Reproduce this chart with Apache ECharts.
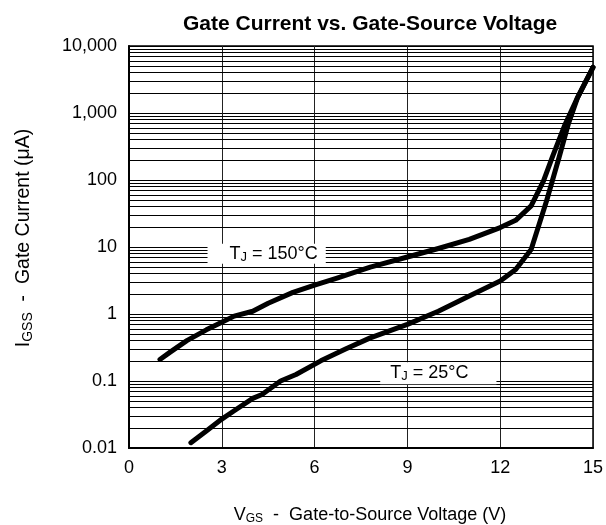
<!DOCTYPE html>
<html>
<head>
<meta charset="utf-8">
<script src="https://cdn.jsdelivr.net/npm/echarts@6.0.0/dist/echarts.min.js"></script>
<style>
html,body{margin:0;padding:0;background:#fff;}
#chart{width:606px;height:525px;}
</style>
</head>
<body>
<div id="chart"></div>
<script>
// ---- data ----
const vgs150 = [1.0, 1.33, 1.87, 2.5, 3.0, 3.4, 4.0, 4.5, 5.3, 6.0, 6.7, 7.8, 9.0, 10.0, 11.0, 12.0, 12.5, 13.0, 13.4, 13.7, 14.1, 14.5, 15.0];
const igss150 = [0.21, 0.27, 0.40, 0.58, 0.75, 0.93, 1.1, 1.45, 2.1, 2.7, 3.4, 5.0, 7.1, 9.5, 13, 19.5, 25, 41, 97, 230, 680, 1700, 4800];

const vgs25 = [2.0, 2.5, 3.0, 3.4, 4.0, 4.3, 4.9, 5.4, 6.2, 7.0, 7.8, 9.0, 10.0, 11.0, 12.0, 12.5, 13.0, 13.5, 13.9, 14.2, 14.5, 15.0];
const igss25 = [0.012, 0.018, 0.027, 0.036, 0.055, 0.063, 0.10, 0.125, 0.2, 0.3, 0.44, 0.70, 1.1, 1.85, 3.1, 4.6, 9.2, 49, 215, 680, 1700, 4800];

const xTickValues = [0, 3, 6, 9, 12, 15];
const yTickValues = [0.01, 0.1, 1, 10, 100, 1000, 10000];
const yTickLabels = ['0.01', '0.1', '1', '10', '100', '1,000', '10,000'];
const minorMultipliers = [2, 3, 4, 5, 6, 7, 8, 9];

const titleText = 'Gate Current vs. Gate-Source Voltage';
const label150 = 'T_J = 150°C';
const label25 = 'T_J = 25°C';

// ---- build chart ----
const FONT = '"Liberation Sans", Arial, sans-serif';
const toPairs = (xs, ys) => xs.map((x, i) => [x, ys[i]]);

const minorLines = [];
for (let d = 0; d < yTickValues.length - 1; d++) {
  minorMultipliers.forEach(m => minorLines.push({ yAxis: yTickValues[d] * m }));
}

function yFmt(v) {
  for (let i = 0; i < yTickValues.length; i++) {
    if (Math.abs(Math.log10(v) - Math.log10(yTickValues[i])) < 1e-6) return yTickLabels[i];
  }
  return '';
}

const labelRich = {
  t: { fontSize: 18, fontFamily: FONT, color: '#000', lineHeight: 20, verticalAlign: 'middle' },
  s: { fontSize: 13, fontFamily: FONT, color: '#000', lineHeight: 12, verticalAlign: 'bottom' }
};
const xNameRich = {
  t: { fontSize: 18, fontFamily: FONT, color: '#000', lineHeight: 20, verticalAlign: 'middle' },
  s: { fontSize: 12, fontFamily: FONT, color: '#000', lineHeight: 12, verticalAlign: 'bottom' }
};
const yNameRich = {
  t: { fontSize: 19.5, fontFamily: FONT, color: '#000', lineHeight: 22, verticalAlign: 'middle' },
  s: { fontSize: 14, fontFamily: FONT, color: '#000', lineHeight: 13, verticalAlign: 'bottom' }
};
function richLabel(s) {
  const parts = s.split('_');
  const sub = parts[1].charAt(0);
  return '{t|' + parts[0] + '}{s|' + sub + '}{t|' + parts[1].slice(1) + '}';
}

const chart = echarts.init(document.getElementById('chart'), null, { renderer: 'canvas' });
chart.setOption({
  animation: false,
  backgroundColor: '#fff',
  textStyle: { fontFamily: FONT, color: '#000' },
  title: {
    text: titleText,
    left: 178,
    top: 9,
    textStyle: { fontSize: 21, fontWeight: 'bold', fontFamily: FONT, color: '#000' }
  },
  grid: {
    left: 129, right: 13, top: 46, bottom: 77,
    containLabel: false, outerBoundsMode: 'none',
    show: true, borderColor: '#000', borderWidth: 1.5, backgroundColor: 'transparent'
  },
  xAxis: {
    type: 'value', min: 0, max: 15, interval: 3,
    axisLine: { show: true, onZero: false, lineStyle: { color: '#000', width: 2 } },
    axisTick: { show: false },
    axisLabel: { fontSize: 18, color: '#000', fontFamily: FONT, margin: 11,
      formatter: v => (xTickValues.indexOf(v) >= 0 ? String(v) : '') },
    splitLine: { show: true, lineStyle: { color: '#222', width: 1 } },
    name: '{t|V}{s|GS}{t|  -  Gate-to-Source Voltage (V)}',
    nameLocation: 'middle',
    nameGap: 57,
    nameTextStyle: { rich: xNameRich, padding: [0, 0, 0, 18] }
  },
  yAxis: {
    type: 'log', logBase: 10, min: 0.01, max: 10000, splitNumber: 6,
    axisLine: { show: true, onZero: false, lineStyle: { color: '#000', width: 2 } },
    axisTick: { show: false },
    axisLabel: { fontSize: 18, color: '#000', fontFamily: FONT, margin: 12, formatter: yFmt },
    splitLine: { show: true, lineStyle: { color: '#000', width: 1 } },
    minorTick: { show: false },
    minorSplitLine: { show: false },
    name: '{t|I}{s|GSS}{t|  -  Gate Current (μA)}',
    nameLocation: 'middle',
    nameGap: 94,
    nameRotate: 90,
    nameTextStyle: { rich: yNameRich, padding: [0, 0, 0, 18] }
  },
  series: [
    {
      type: 'line', data: [], z: 1, silent: true,
      markLine: {
        silent: true, symbol: ['none', 'none'], animation: false,
        label: { show: false },
        lineStyle: { color: '#000', width: 1, type: 'solid' },
        emphasis: { disabled: true },
        data: minorLines
      }
    },
    {
      name: '150', type: 'line', z: 3, showSymbol: false, smooth: false,
      data: toPairs(vgs150, igss150),
      lineStyle: { color: '#000', width: 5, cap: 'round', join: 'round' },
      markPoint: {
        symbol: 'rect', symbolSize: 0, silent: true,
        label: { show: true, position: 'inside', formatter: richLabel(label150), rich: labelRich,
          backgroundColor: '#fff', padding: [0, 8, 0, 22] },
        data: [{ coord: [4.45, 7.9] }]
      }
    },
    {
      name: '25', type: 'line', z: 3, showSymbol: false, smooth: false,
      data: toPairs(vgs25, igss25),
      lineStyle: { color: '#000', width: 5, cap: 'round', join: 'round' },
      markPoint: {
        symbol: 'rect', symbolSize: 0, silent: true,
        label: { show: true, position: 'inside', formatter: richLabel(label25), rich: labelRich,
          backgroundColor: '#fff', padding: [1, 28, 1, 10] },
        data: [{ coord: [10.0, 0.13] }]
      }
    }
  ]
});
</script>
</body>
</html>
